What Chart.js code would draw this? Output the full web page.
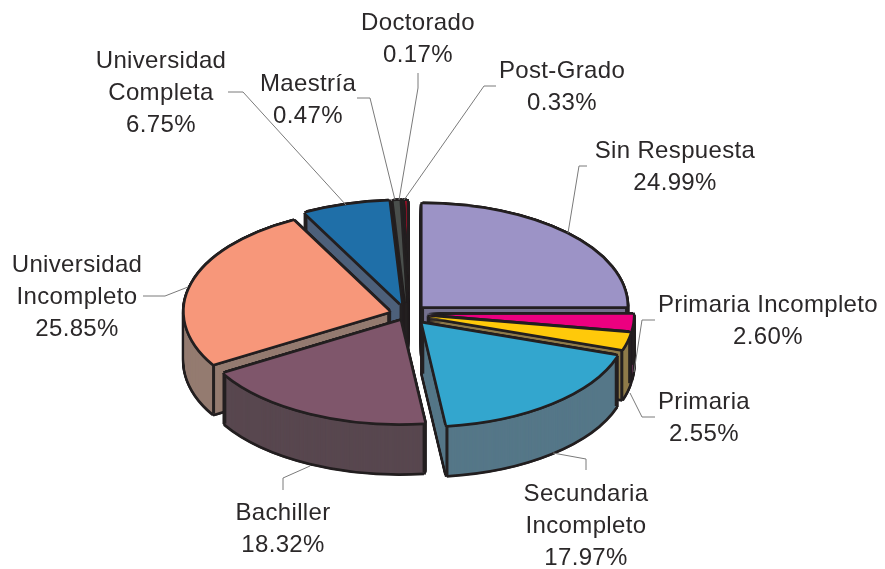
<!DOCTYPE html>
<html>
<head>
<meta charset="utf-8">
<style>
  html, body { margin: 0; padding: 0; background: #fff; }
  canvas { display: block; }
</style>
<script src="https://cdn.jsdelivr.net/npm/chart.js@4/dist/chart.umd.min.js"></script>
</head>
<body>
<canvas id="chart-pie" width="885" height="569"></canvas>
<script>
const categories = ['Sin Respuesta', 'Primaria Incompleto', 'Primaria', 'Secundaria Incompleto', 'Bachiller',
  'Universidad Incompleto', 'Universidad Completa', 'Maestría', 'Doctorado', 'Post-Grado'];
const values = [24.99, 2.60, 2.55, 17.97, 18.32, 25.85, 6.75, 0.47, 0.17, 0.33];
const explode = [22, 22, 22, 25, 16, 19, 22, 22, 22, 22];
const topColors = ['#9C93C6', '#EC0080', '#FFC90A', '#33A6CE', '#7F566B', '#F7977A', '#1F6FA8', '#4A4F4C', '#2F5F48', '#A01028'];
const wallColors = ['#75718E', '#7A3B66', '#8F7B4A', '#557788', '#58474F', '#947B70', '#4D607A', '#231F20', '#231F20', '#231F20'];

// label text lines, centre x and y of first line
const labels = [
  { lines: ['Sin Respuesta', '24.99%'], x: 675, y: 151 },
  { lines: ['Primaria Incompleto', '2.60%'], x: 768, y: 305 },
  { lines: ['Primaria', '2.55%'], x: 704, y: 402 },
  { lines: ['Secundaria', 'Incompleto', '17.97%'], x: 586, y: 494 },
  { lines: ['Bachiller', '18.32%'], x: 283, y: 513 },
  { lines: ['Universidad', 'Incompleto', '25.85%'], x: 77, y: 265 },
  { lines: ['Universidad', 'Completa', '6.75%'], x: 161, y: 61 },
  { lines: ['Maestría', '0.47%'], x: 308, y: 84 },
  { lines: ['Doctorado', '0.17%'], x: 418, y: 23 },
  { lines: ['Post-Grado', '0.33%'], x: 562, y: 71 },
];
const leaders = [
  [[587, 166], [579, 166], [568, 233]],
  [[655, 320], [642, 320], [634, 372]],
  [[655, 417], [642, 417], [630, 393]],
  [[586, 470], [586, 459], [553, 453]],
  [[283, 490], [283, 478], [310, 466]],
  [[143, 296], [165, 296], [188, 287]],
  [[228, 92], [243, 92], [346, 205]],
  [[357, 98], [370, 98], [395, 200]],
  [[418, 73], [418, 88], [399, 200]],
  [[496, 86], [484, 86], [404, 200]],
];

const TILT = 0.5;
const DEPTH = 50;
const EDGE = 2.8;

function drawFlat(ctx, arc, i, color, dx, dy) {
  const o = arc.options;
  const mid = (arc.startAngle + arc.endAngle) / 2;
  arc.options = Object.assign({}, o, { backgroundColor: color, borderWidth: 0, offset: 0 });
  ctx.save();
  ctx.translate(arc.x + dx, arc.y + dy);
  ctx.scale(1, TILT);
  ctx.translate(-arc.x + Math.cos(mid) * explode[i], -arc.y + Math.sin(mid) * explode[i]);
  arc.draw(ctx);
  ctx.restore();
  arc.options = o;
}

function drawEdges(ctx, arc, i) {
  const mid = (arc.startAngle + arc.endAngle) / 2;
  const px = a => arc.x + Math.cos(mid) * explode[i] + Math.cos(a) * arc.outerRadius;
  const py = a => arc.y + TILT * (Math.sin(mid) * explode[i] + Math.sin(a) * arc.outerRadius);
  const x0 = arc.x + Math.cos(mid) * explode[i];
  const y0 = arc.y + TILT * Math.sin(mid) * explode[i];
  const pts = [[x0, y0], [px(arc.startAngle), py(arc.startAngle)], [px(arc.endAngle), py(arc.endAngle)]];
  ctx.strokeStyle = '#231F20';
  ctx.lineWidth = 3;
  pts.forEach(p => {
    ctx.beginPath();
    ctx.moveTo(p[0], p[1]);
    ctx.lineTo(p[0], p[1] + DEPTH);
    ctx.stroke();
  });
}

const pie3d = {
  id: 'pie3d',
  beforeDatasetsDraw(chart) {
    const ctx = chart.ctx;
    const arcs = chart.getDatasetMeta(0).data.map((arc, i) => ({ arc, i }));
    // back to front
    const depthOf = a => Math.sin((a.arc.startAngle + a.arc.endAngle) / 2);
    arcs.sort((a, b) => depthOf(a) - depthOf(b));
    arcs.forEach(({ arc, i }) => {
      for (let d = DEPTH; d >= 0; d--) {
        for (let t = 0; t < 8; t++) {
          const ang = t * Math.PI / 4;
          drawFlat(ctx, arc, i, '#231F20', Math.cos(ang) * EDGE, d + Math.sin(ang) * EDGE);
        }
      }
      for (let d = DEPTH; d > 0; d--) drawFlat(ctx, arc, i, wallColors[i], 0, d);
      drawEdges(ctx, arc, i);
      for (let t = 0; t < 8; t++) {
        const ang = t * Math.PI / 4;
        drawFlat(ctx, arc, i, '#231F20', Math.cos(ang) * EDGE, Math.sin(ang) * EDGE);
      }
      drawFlat(ctx, arc, i, topColors[i], 0, 0);
    });
    return false;
  },
  afterDraw(chart) {
    const ctx = chart.ctx;
    ctx.save();
    ctx.strokeStyle = '#7A7A7A';
    ctx.lineWidth = 1;
    leaders.forEach(pts => {
      ctx.beginPath();
      pts.forEach((p, k) => (k ? ctx.lineTo(p[0], p[1]) : ctx.moveTo(p[0], p[1])));
      ctx.stroke();
    });
    ctx.fillStyle = '#2B2829';
    ctx.font = '24px "Liberation Sans", Arial, sans-serif';
    ctx.letterSpacing = '0.35px';
    ctx.textAlign = 'center';
    ctx.textBaseline = 'middle';
    labels.forEach(l => l.lines.forEach((t, k) => ctx.fillText(t, l.x, l.y + k * 32)));
    ctx.restore();
  },
};

new Chart(document.getElementById('chart-pie'), {
  type: 'pie',
  data: {
    labels: categories,
    datasets: [{ data: values, backgroundColor: topColors, borderWidth: 0, radius: 204 }],
  },
  options: {
    responsive: false,
    animation: false,
    layout: { padding: { left: 4, right: 75, top: 59, bottom: 0 } },
    plugins: { legend: { display: false }, tooltip: { enabled: false } },
  },
  plugins: [pie3d],
});
</script>
</body>
</html>
